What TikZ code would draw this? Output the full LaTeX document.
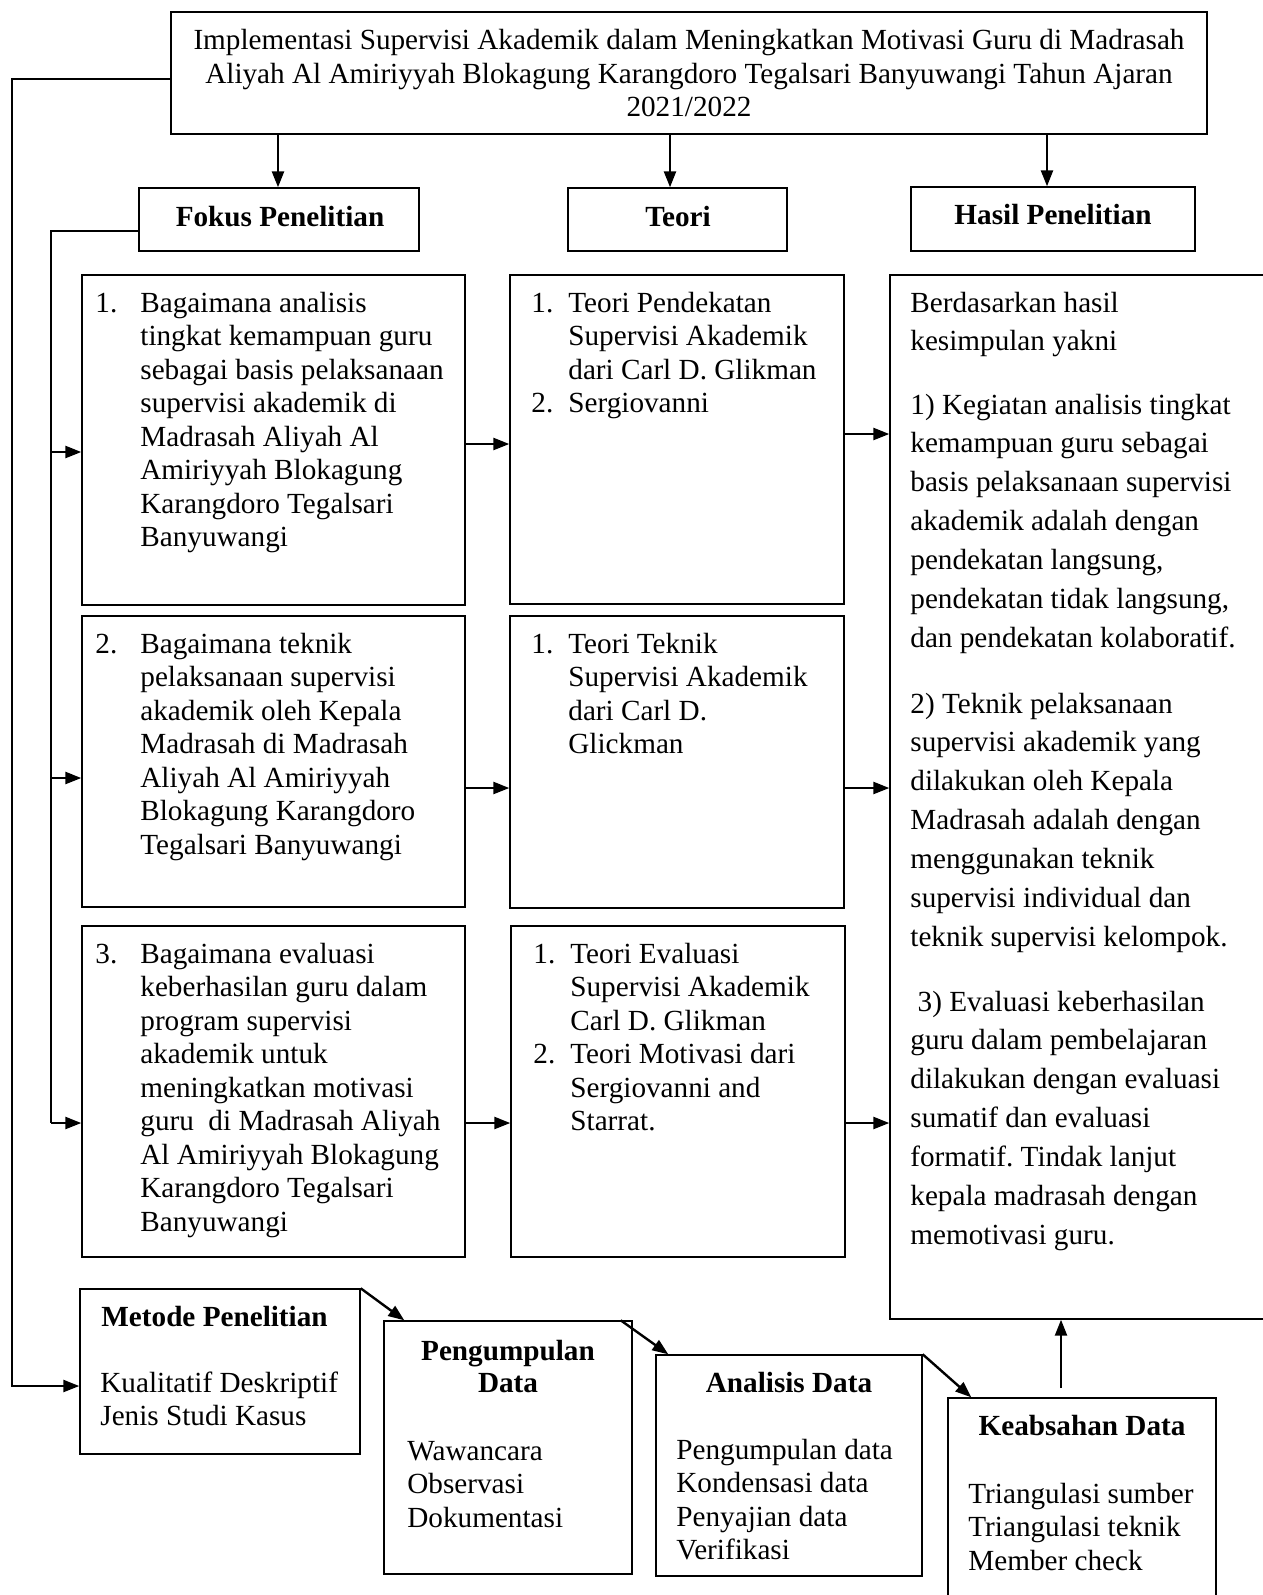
\documentclass[tikz,border=0pt]{standalone}
\usepackage{fontspec}
\setmainfont{Liberation Serif}
\usetikzlibrary{arrows.meta,calc,fit}
\frenchspacing
\tikzset{
  box/.style={draw, line width=0.7pt, inner sep=0pt},
  conn/.style={line width=1.2pt},
  arr/.style={conn, -{Triangle[length=8pt,width=6pt]}},
  txt/.style={inner sep=0pt, anchor=base west},
  ctxt/.style={inner sep=0pt, anchor=base},
  bold/.style={font=\fontsize{14.6}{16.75}\selectfont\bfseries},
}
\begin{document}
\begin{tikzpicture}[x=0.5pt,y=-0.5pt,font=\fontsize{14.6}{16.75}\selectfont]
\useasboundingbox (0,0) rectangle (1263,1595);

% ---------- boxes ----------
\node[box, fit={(171,12) (1207,134)}] (title) {};
\node[ctxt] (titletext) at (689,50) {\begin{tabular}[t]{@{}c@{}}Implementasi Supervisi Akademik dalam Meningkatkan Motivasi Guru di Madrasah\\Aliyah Al Amiriyyah Blokagung Karangdoro Tegalsari Banyuwangi Tahun Ajaran\\2021/2022\end{tabular}};

\node[box, fit={(139,188) (419,251)}] (fokusH) {};
\node[box, fit={(568,188) (787,251)}] (teoriH) {};
\node[box, fit={(911,187) (1195,251)}] (hasilH) {};
\node[ctxt, bold] (fokusHt) at (280,226) {Fokus Penelitian};
\node[ctxt, bold] (teoriHt) at (678,226) {Teori};
\node[ctxt, bold] (hasilHt) at (1053,224) {Hasil Penelitian};

\node[box, fit={(82,275) (465,605)}] (f1) {};
\node[box, fit={(82,616) (465,907)}] (f2) {};
\node[box, fit={(82,926) (465,1257)}] (f3) {};

\node[box, fit={(510,275) (844,604)}] (t1) {};
\node[box, fit={(510,616) (844,908)}] (t2) {};
\node[box, fit={(511,926) (845,1257)}] (t3) {};

\node[box, fit={(890,275) (1275,1319)}] (result) {};

\node[box, fit={(80,1289) (360,1454)}] (metode) {};
\node[box, fit={(384,1321) (632,1574)}] (peng) {};
\node[box, fit={(656,1355) (922,1576)}] (anal) {};
\node[box, fit={(948,1398) (1216,1610)}] (keab) {};

% ---------- texts ----------
\node[txt] (f1text) at (95,312) {\begin{tabular}[t]{@{}p{22.5pt}@{}l@{}}
1.&Bagaimana analisis\\&tingkat kemampuan guru\\&sebagai basis pelaksanaan\\&supervisi akademik di\\&Madrasah Aliyah Al\\&Amiriyyah Blokagung\\&Karangdoro Tegalsari\\&Banyuwangi\end{tabular}};
\node[txt] (f2text) at (95,653) {\begin{tabular}[t]{@{}p{22.5pt}@{}l@{}}
2.&Bagaimana teknik\\&pelaksanaan supervisi\\&akademik oleh Kepala\\&Madrasah di Madrasah\\&Aliyah Al Amiriyyah\\&Blokagung Karangdoro\\&Tegalsari Banyuwangi\end{tabular}};
\node[txt] (f3text) at (95,963) {\begin{tabular}[t]{@{}p{22.5pt}@{}l@{}}
3.&Bagaimana evaluasi\\&keberhasilan guru dalam\\&program supervisi\\&akademik untuk\\&meningkatkan motivasi\\&guru\ \ di Madrasah Aliyah\\&Al Amiriyyah Blokagung\\&Karangdoro Tegalsari\\&Banyuwangi\end{tabular}};

\node[txt] (t1text) at (531,312) {\begin{tabular}[t]{@{}p{18.5pt}@{}l@{}}
1.&Teori Pendekatan\\&Supervisi Akademik\\&dari Carl D. Glikman\\2.&Sergiovanni\end{tabular}};
\node[txt] (t2text) at (531,653) {\begin{tabular}[t]{@{}p{18.5pt}@{}l@{}}
1.&Teori Teknik\\&Supervisi Akademik\\&dari Carl D.\\&Glickman\end{tabular}};
\node[txt] (t3text) at (533,963) {\begin{tabular}[t]{@{}p{18.5pt}@{}l@{}}
1.&Teori Evaluasi\\&Supervisi Akademik\\&Carl D. Glikman\\2.&Teori Motivasi dari\\&Sergiovanni and\\&Starrat.\end{tabular}};

\begin{scope}[font=\fontsize{14.6}{19.45}\selectfont]
\node[txt] (r0) at (910,312) {\begin{tabular}[t]{@{}l@{}}Berdasarkan hasil\\kesimpulan yakni\end{tabular}};
\node[txt] (r1) at (910,414) {\begin{tabular}[t]{@{}l@{}}1) Kegiatan analisis tingkat\\kemampuan guru sebagai\\basis pelaksanaan supervisi\\akademik adalah dengan\\pendekatan langsung,\\pendekatan tidak langsung,\\dan pendekatan kolaboratif.\end{tabular}};
\node[txt] (r2) at (910,713) {\begin{tabular}[t]{@{}l@{}}2) Teknik pelaksanaan\\supervisi akademik yang\\dilakukan oleh Kepala\\Madrasah adalah dengan\\menggunakan teknik\\supervisi individual dan\\teknik supervisi kelompok.\end{tabular}};
\node[txt] (r3) at (910,1011) {\begin{tabular}[t]{@{}l@{}}\ 3) Evaluasi keberhasilan\\guru dalam pembelajaran\\dilakukan dengan evaluasi\\sumatif dan evaluasi\\formatif. Tindak lanjut\\kepala madrasah dengan\\memotivasi guru.\end{tabular}};
\end{scope}

\node[txt, bold] (mH) at (101,1326) {Metode Penelitian};
\node[txt] (mT) at (100,1392) {\begin{tabular}[t]{@{}l@{}}Kualitatif Deskriptif\\Jenis Studi Kasus\end{tabular}};

\node[ctxt, font=\fontsize{14.6}{16}\selectfont\bfseries] (pH) at (508,1360) {\begin{tabular}[t]{@{}c@{}}Pengumpulan\\Data\end{tabular}};
\node[txt] (pT) at (407,1460) {\begin{tabular}[t]{@{}l@{}}Wawancara\\Observasi\\Dokumentasi\end{tabular}};

\node[ctxt, bold] (aH) at (789,1392) {Analisis Data};
\node[txt] (aT) at (676,1459) {\begin{tabular}[t]{@{}l@{}}Pengumpulan data\\Kondensasi data\\Penyajian data\\Verifikasi\end{tabular}};

\node[ctxt, bold] (kH) at (1082,1435) {Keabsahan Data};
\node[txt] (kT) at (968,1503) {\begin{tabular}[t]{@{}l@{}}Triangulasi sumber\\Triangulasi teknik\\Member check\end{tabular}};

% ---------- connectors ----------
\coordinate (d1) at (278,0);
\coordinate (d2) at (670,0);
\coordinate (d3) at (1047,0);
\draw[arr] (title.south -| d1) -- (fokusH.north -| d1);
\draw[arr] (title.south -| d2) -- (teoriH.north -| d2);
\draw[arr] (title.south -| d3) -- (hasilH.north -| d3);

\coordinate (L1) at (12,79);
\coordinate (m1) at (0,1386);
\draw[arr] (title.west |- L1) -- (L1) |- (metode.west |- m1);

\coordinate (L2) at (51,231);
\coordinate (a1) at (0,452);
\coordinate (a2) at (0,778);
\coordinate (a3) at (0,1123);
\draw[conn] (fokusH.west |- L2) -- (L2) -- (L2 |- a3);
\draw[arr] (L2 |- a1) -- (f1.west |- a1);
\draw[arr] (L2 |- a2) -- (f2.west |- a2);
\draw[arr] (L2 |- a3) -- (f3.west |- a3);

\coordinate (b1) at (0,444);
\coordinate (b2) at (0,788);
\coordinate (b3) at (0,1123);
\draw[arr] (f1.east |- b1) -- (t1.west |- b1);
\draw[arr] (f2.east |- b2) -- (t2.west |- b2);
\draw[arr] (f3.east |- b3) -- (t3.west |- b3);

\coordinate (c1) at (0,434);
\draw[arr] (t1.east |- c1) -- (result.west |- c1);
\draw[arr] (t2.east |- b2) -- (result.west |- b2);
\draw[arr] (t3.east |- b3) -- (result.west |- b3);

\draw[arr] (metode.north east) -- ($(peng.north west)+(21,0)$);
\draw[arr] ($(peng.north east)+(-12,0)$) -- ($(anal.north west)+(13,0)$);
\draw[arr] (anal.north east) -- ($(keab.north west)+(24,0)$);
\coordinate (u) at (1061,1388);
\draw[arr] (u) -- (u |- result.south);
\end{tikzpicture}
\end{document}
